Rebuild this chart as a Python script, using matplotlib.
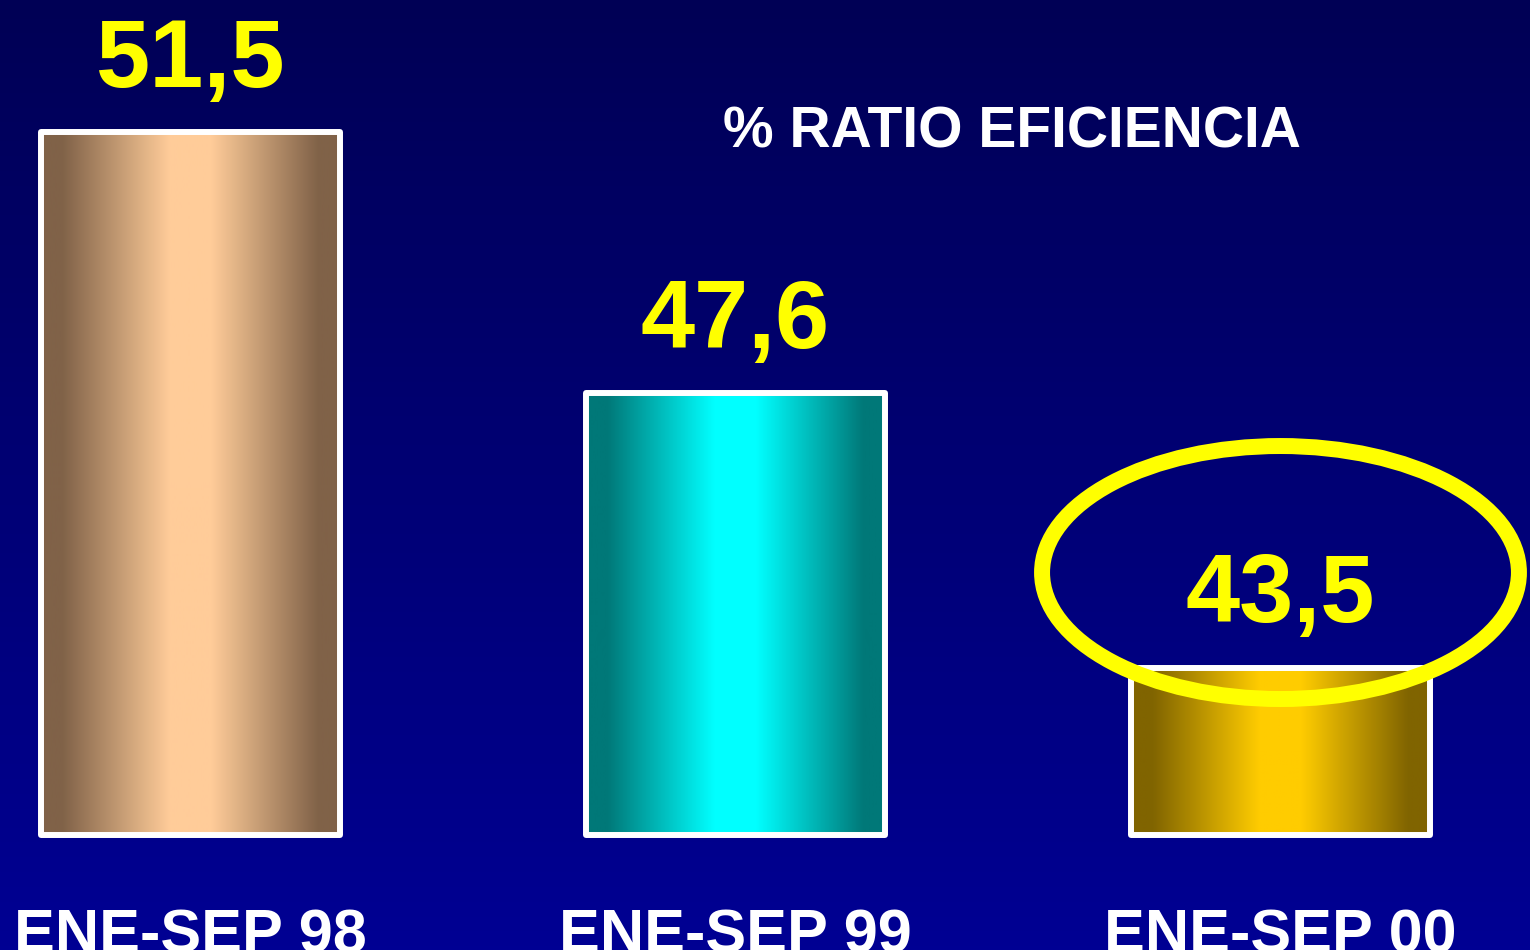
import numpy as np
import matplotlib.pyplot as plt
from matplotlib.patches import Ellipse
from matplotlib.transforms import blended_transform_factory

# data
periods = ['ENE-SEP 98', 'ENE-SEP 99', 'ENE-SEP 00']
ratio = [51.5, 47.6, 43.5]
labels = ['51,5', '47,6', '43,5']
title = '% RATIO EFICIENCIA'
highlight = 2  # circled bar

# (dark edge, bright centre) colour for each bar
bar_colors = [((128, 98, 72), (255, 204, 153)),
              ((0, 120, 120), (0, 255, 255)),
              ((128, 100, 0), (255, 204, 0))]

base = 41.0
width = 0.547

if __name__ == '__main__':
    plt.rcParams['font.family'] = ['Liberation Sans', 'DejaVu Sans']
    fig = plt.figure(figsize=(15.3, 9.5), dpi=100)

    # background: vertical navy gradient
    bg = fig.add_axes([0, 0, 1, 1], zorder=0)
    grad = np.linspace(0, 1, 256).reshape(-1, 1)
    top = np.array([0, 0, 0x55]) / 255
    bot = np.array([0, 0, 0x93]) / 255
    img = top + (bot - top) * grad[..., None]
    bg.imshow(img, aspect='auto', extent=[0, 1, 0, 1], origin='upper')
    bg.axis('off')

    ax = fig.add_axes([0, 0, 1, 1], zorder=1)
    ax.patch.set_alpha(0)
    ax.set_xlim(-0.3495, 2.4578)
    ax.set_ylim(39.28, 53.474)
    ax.axis('off')

    x = np.arange(len(ratio))
    heights = [v - base for v in ratio]
    bars = ax.bar(x, heights, width=width, bottom=base, facecolor='none',
                  edgecolor='white', linewidth=4.3, joinstyle='round', zorder=3)

    # horizontal "cylinder" shading inside each bar
    t = np.linspace(0, 1, 300)
    s = np.clip((0.43 - np.abs(t - 0.5)) / 0.36, 0, 1)
    for i, b in enumerate(bars):
        dark = np.array(bar_colors[i][0]) / 255
        bright = np.array(bar_colors[i][1]) / 255
        row = dark + (bright - dark) * s[:, None]
        x0 = b.get_x()
        ax.imshow(row[None, :, :], aspect='auto', zorder=2,
                  extent=[x0, x0 + b.get_width(), base, ratio[i]])

    # value labels
    for i, v in enumerate(ratio):
        ax.annotate(labels[i], (x[i], v), xytext=(0, 32.5), textcoords='offset points',
                    ha='center', va='baseline', color='#FFFF00',
                    fontsize=70, fontweight='bold', zorder=5)

    # highlight ellipse around the last value
    ell = Ellipse((x[highlight], ratio[highlight] + 1.42), 0.875, 3.78,
                  fill=False, edgecolor='#FFFF00', linewidth=11.5, zorder=4)
    ax.add_patch(ell)

    fig.text(1012 / 1530, 1 - 148 / 950, title, ha='center', va='baseline',
             color='white', fontsize=41, fontweight='bold', zorder=6)

    # period labels sit on the bottom edge, cut off like on the slide
    trans = blended_transform_factory(ax.transData, fig.transFigure)
    for i, p in enumerate(periods):
        ax.text(x[i], 1 - 952 / 950, p, transform=trans, ha='center', va='baseline',
                color='white', fontsize=44, fontweight='bold', zorder=5)

    fig.savefig('out.png', dpi=100)
